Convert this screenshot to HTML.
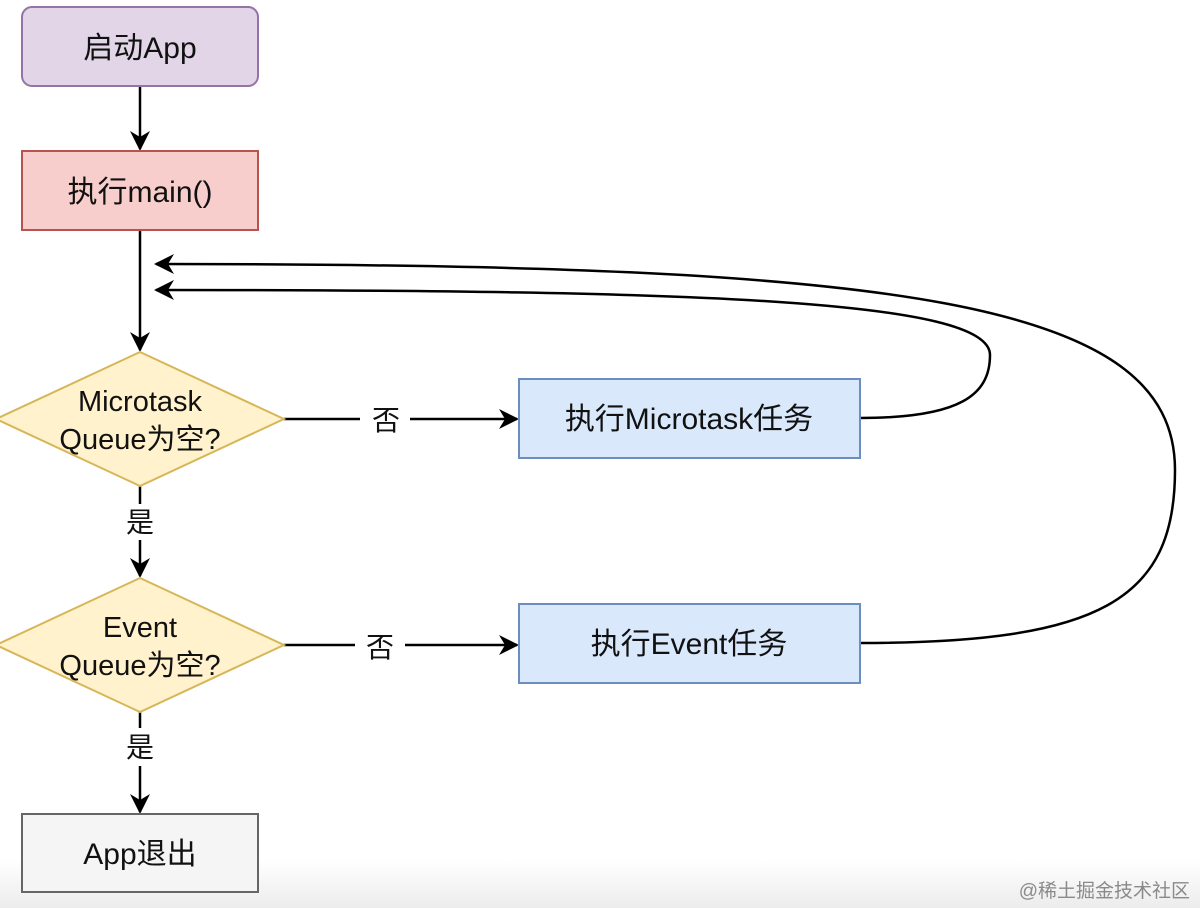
<!DOCTYPE html>
<html><head><meta charset="utf-8"><style>
html,body{margin:0;padding:0;background:#fff}
svg{display:block}
text{font-family:"Liberation Sans","Noto Sans CJK SC",sans-serif;fill:#111}
</style></head><body>
<svg width="1200" height="908" viewBox="0 0 1200 908" xmlns="http://www.w3.org/2000/svg">
<defs>
<linearGradient id="bg" x1="0" y1="0" x2="0" y2="1">
<stop offset="0" stop-color="#fff"/><stop offset="1" stop-color="#ececec"/>
</linearGradient>
<marker id="a" viewBox="0 0 20 20" refX="18" refY="10" markerWidth="20" markerHeight="20" markerUnits="userSpaceOnUse" orient="auto">
<path d="M0,0 L20,10 L0,20 L6,10 Z" fill="#000"/>
</marker>
</defs>
<rect x="0" y="860" width="1200" height="48" fill="url(#bg)"/>
<g stroke="#000" stroke-width="2.5" fill="none">
<line x1="140" y1="86" x2="140" y2="149" marker-end="url(#a)"/>
<line x1="140" y1="230" x2="140" y2="350" marker-end="url(#a)"/>
<line x1="140" y1="486" x2="140" y2="504"/>
<line x1="140" y1="540" x2="140" y2="576" marker-end="url(#a)"/>
<line x1="140" y1="712" x2="140" y2="728"/>
<line x1="140" y1="766" x2="140" y2="812" marker-end="url(#a)"/>
<line x1="284" y1="419" x2="360" y2="419"/>
<line x1="410" y1="419" x2="517" y2="419" marker-end="url(#a)"/>
<line x1="284" y1="645" x2="355" y2="645"/>
<line x1="405" y1="645" x2="517" y2="645" marker-end="url(#a)"/>
<path d="M860,418 C960,418 990,395 990,355 C990,300 700,290 156,290" marker-end="url(#a)"/>
<path d="M860,643 C1100,643 1175,600 1175,470 C1175,300 900,264 156,264" marker-end="url(#a)"/>
</g>
<rect x="22" y="7" width="236" height="79" rx="10" fill="#e1d5e7" stroke="#9673a6" stroke-width="2"/>
<text x="140" y="58" font-size="30" text-anchor="middle">启动App</text>
<rect x="22" y="151" width="236" height="79" fill="#f8cecc" stroke="#b85450" stroke-width="2"/>
<text x="140" y="202" font-size="30" text-anchor="middle">执行main()</text>
<polygon points="140,352 284,419 140,486 -4,419" fill="#fff2cc" stroke="#d6b656" stroke-width="2"/>
<text x="140" y="411" font-size="29" text-anchor="middle">Microtask</text>
<text x="140" y="449" font-size="29" text-anchor="middle">Queue为空?</text>
<polygon points="140,578 284,645 140,712 -4,645" fill="#fff2cc" stroke="#d6b656" stroke-width="2"/>
<text x="140" y="637" font-size="29" text-anchor="middle">Event</text>
<text x="140" y="675" font-size="29" text-anchor="middle">Queue为空?</text>
<rect x="519" y="379" width="341" height="79" fill="#dae8fc" stroke="#6c8ebf" stroke-width="2"/>
<text x="689" y="429" font-size="30" text-anchor="middle">执行Microtask任务</text>
<rect x="519" y="604" width="341" height="79" fill="#dae8fc" stroke="#6c8ebf" stroke-width="2"/>
<text x="689" y="654" font-size="30" text-anchor="middle">执行Event任务</text>
<rect x="22" y="814" width="236" height="78" fill="#f5f5f5" stroke="#666" stroke-width="2"/>
<text x="140" y="864" font-size="30" text-anchor="middle">App退出</text>
<text x="386" y="430" font-size="28" text-anchor="middle">否</text>
<text x="380" y="657" font-size="28" text-anchor="middle">否</text>
<text x="140" y="532" font-size="28" text-anchor="middle">是</text>
<text x="140" y="757" font-size="28" text-anchor="middle">是</text>
<text x="1190" y="897" font-size="19" text-anchor="end" style="fill:#8a8a8a">@稀土掘金技术社区</text>
</svg>
</body></html>
